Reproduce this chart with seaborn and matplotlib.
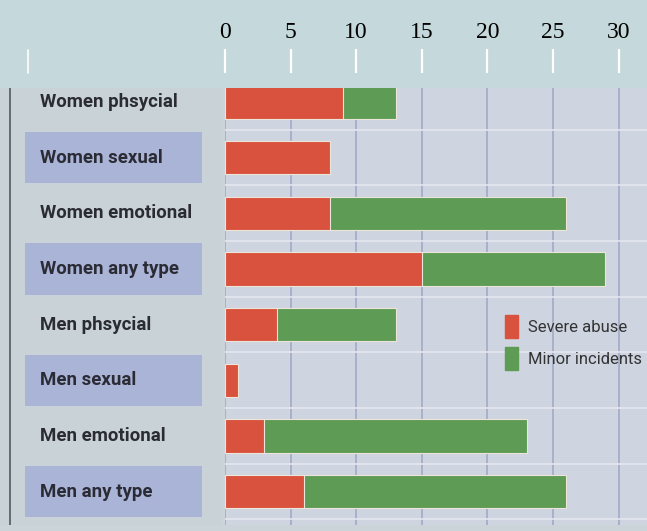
import matplotlib.pyplot as plt
import pandas as pd
import seaborn as sns
from matplotlib.lines import Line2D
from matplotlib.patches import Patch

categories = ["Women phsycial", "Women sexual", "Women emotional", "Women any type",
              "Men phsycial", "Men sexual", "Men emotional", "Men any type"]
severe = [9, 8, 8, 15, 4, 1, 3, 6]
minor = [4, 0, 18, 14, 9, 0, 20, 20]
ticks = [0, 5, 10, 15, 20, 25, 30]
legend_labels = ["Severe abuse", "Minor incidents"]

RED = "#d9523e"
GREEN = "#5e9b55"

df = pd.DataFrame({"category": categories, "severe": severe, "minor": minor})
df["total"] = df["severe"] + df["minor"]

sns.set_theme(style="white")
plt.rcParams["font.family"] = ["Roboto", "DejaVu Sans"]

W, H = 647, 531


def px(x0, y0, x1, y1):
    # pixel box (top-left origin) -> figure fraction rect
    return [x0 / W, 1 - y1 / H, (x1 - x0) / W, (y1 - y0) / H]


fig = plt.figure(figsize=(W / 100, H / 100), dpi=100)
fig.patch.set_facecolor("#cbd4d8")

# top band with the scale
band = fig.add_axes(px(0, 0, W, 88))
band.set_facecolor("#c5d8dc")
band.set_xticks([])
band.set_yticks([])
for s in band.spines.values():
    s.set_visible(False)

# main bar area
ax = fig.add_axes(px(225, 88, W, 525))
ax.set_facecolor("#ced4e0")
bar_kw = dict(orient="h", width=0.6, saturation=1, edgecolor="#ece6da", linewidth=0.8, ax=ax)
sns.barplot(data=df, x="total", y="category", color=GREEN, **bar_kw)
sns.barplot(data=df, x="severe", y="category", color=RED, **bar_kw)

ax.set_xlim(0, (W - 225) / 13.12)
ax.set_ylim(7.6, -0.25)
ax.set_xticks(ticks)
ax.set_yticks(range(len(categories)))
ax.set_yticks([i + 0.5 for i in range(len(categories))], minor=True)
ax.tick_params(labelbottom=False, labelleft=False, length=0, which="both")
ax.set_xlabel("")
ax.set_ylabel("")
ax.set_axisbelow(True)
ax.grid(axis="x", color="#a7afcc", linewidth=1.4)
ax.grid(axis="y", which="minor", color="#e4e7ee", linewidth=1.2)
ax.grid(axis="y", which="major", visible=False)
for s in ax.spines.values():
    s.set_visible(False)

ax.legend(handles=[Patch(color=RED), Patch(color=GREEN)], labels=legend_labels,
          loc="upper left", bbox_to_anchor=(490 / W, 1 - 300 / H), bbox_transform=fig.transFigure,
          frameon=False, handlelength=0.8, handleheight=1.75, handletextpad=0.55,
          labelspacing=0.55, fontsize=12, labelcolor="#333333")

# tick labels and white tick marks in the band
tax = fig.add_axes(px(225, 0, W, 73))
tax.set_facecolor("none")
tax.set_xlim(ax.get_xlim())
tax.set_xticks(ticks, labels=[str(t) for t in ticks])
tax.set_yticks([])
tax.tick_params(axis="x", direction="in", length=17, width=1.6, color="white",
                bottom=True, top=False, labelbottom=False, labeltop=True,
                pad=-31, labelsize=17, labelcolor="black")
for lab in tax.get_xticklabels():
    lab.set_fontfamily(["Liberation Serif", "DejaVu Serif"])
for s in tax.spines.values():
    s.set_visible(False)
fig.add_artist(Line2D([28 / W, 28 / W], [1 - 50 / H, 1 - 73 / H], color="white", lw=1.2))

# label panel on the left
lax = fig.add_axes(px(0, 88, 222, 525))
lax.set_facecolor("#c9d3d7")
lax.set_xlim(0, 222)
lax.set_ylim(ax.get_ylim())
rows = list(range(len(categories)))
lax.barh(rows[1::2], 177, left=25, height=0.92, color="#a9b4d6", linewidth=0)
lax.axvline(10, color="#55595e", lw=1.2)
for i, cat in enumerate(categories):
    lax.text(40, i, cat, va="center", ha="left", fontsize=13.4, fontweight="bold", color="#2b2b35")
lax.set_xticks([])
lax.set_yticks([])
for s in lax.spines.values():
    s.set_visible(False)

fig.savefig("out.png", dpi=100, facecolor=fig.get_facecolor())
